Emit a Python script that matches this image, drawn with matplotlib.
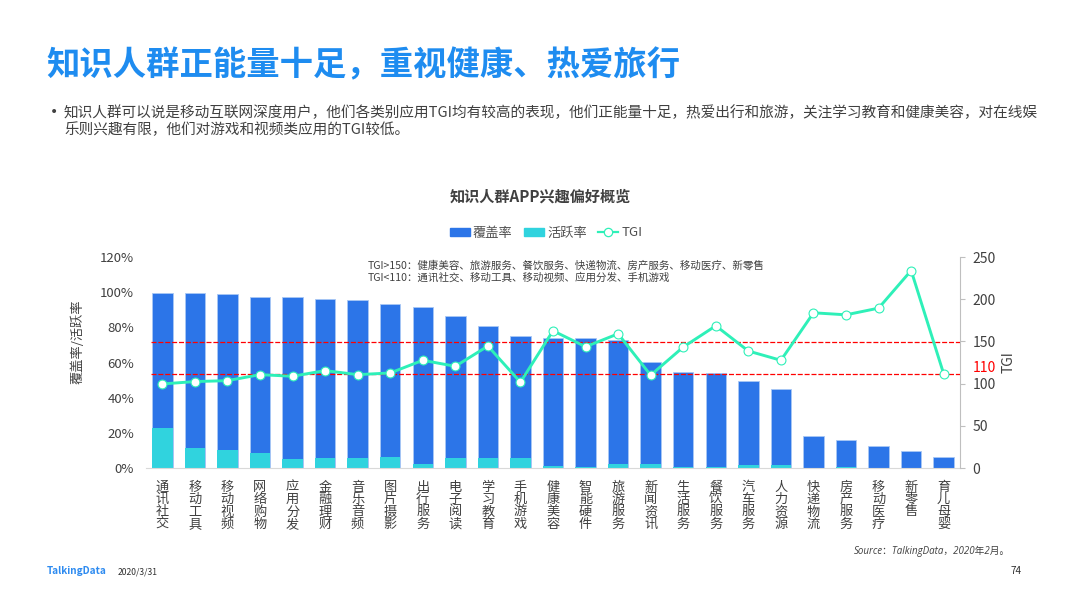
import numpy as np
import matplotlib
matplotlib.use("Agg")
import matplotlib.pyplot as plt
from matplotlib.lines import Line2D
from matplotlib.patches import Patch

plt.rcParams['font.family'] = ['Noto Sans CJK SC', 'DejaVu Sans']

categories = ["通讯社交", "移动工具", "移动视频", "网络购物", "应用分发", "金融理财", "音乐音频", "图片摄影",
              "出行服务", "电子阅读", "学习教育", "手机游戏", "健康美容", "智能硬件", "旅游服务", "新闻资讯",
              "生活服务", "餐饮服务", "汽车服务", "人力资源", "快递物流", "房产服务", "移动医疗", "新零售", "育儿母婴"]
coverage = [99.8, 99.4, 98.7, 97.5, 97.0, 96.2, 95.3, 93.0, 91.7, 86.4, 80.5, 75.0, 74.0,
            73.9, 72.8, 60.3, 54.4, 54.0, 49.5, 45.0, 18.1, 15.7, 12.7, 9.6, 6.2]
active = [22.5, 11.3, 10.0, 8.5, 4.9, 5.7, 5.9, 6.2, 2.3, 5.5, 5.9, 5.9, 1.2,
          0.5, 2.0, 2.5, 0.8, 0.8, 1.5, 1.7, 0.2, 0.8, 0.2, 0.2, 0.2]
tgi = [99.6, 102.4, 103.5, 110.6, 108.7, 115.4, 110.6, 112.6, 127.6, 120.5, 144.5, 101.6, 162.6,
       143.7, 159.0, 110.0, 143.3, 168.5, 138.6, 127.6, 183.9, 181.5, 189.4, 234.0, 111.4]
thresholds = [111, 149]
left_ticks = [0, 20, 40, 60, 80, 100, 120]
right_ticks = [0, 50, 100, 150, 200, 250]

BLUE = "#2C75E8"
CYAN = "#30D3DE"
GREEN = "#2EF0B8"
W, H = 1066, 599


def put(x, y, s, **kw):
    # pixel coords from top-left
    kw.setdefault("va", "center")
    return fig.text(x / W, 1 - y / H, s, **kw)


fig = plt.figure(figsize=(W / 100, H / 100), dpi=100)
ax = fig.add_axes([146 / W, 1 - 468 / H, (960 - 146) / W, (468 - 257) / H])
x = np.arange(len(categories))

ax.bar(x, coverage, width=0.63, color=BLUE, edgecolor="#A9C8F5", linewidth=0.6)
ax.bar(x, active, width=0.63, color=CYAN, linewidth=0)
ax.set_xlim(-0.5, len(categories) - 0.5)
ax.set_ylim(0, 120)
ax.set_yticks(left_ticks)
ax.set_yticklabels([f"{v}%" for v in left_ticks], fontsize=9.5, color="#404040")
ax.set_xticks(x)
ax.set_xticklabels(["\n".join(c) for c in categories], fontsize=9.5, color="#404040",
                   linespacing=0.95, va="top")
ax.tick_params(axis="both", length=0)
ax.tick_params(axis="x", pad=9)
ax.tick_params(axis="y", pad=8.5)
for s in ["top", "left", "right"]:
    ax.spines[s].set_visible(False)
ax.spines["bottom"].set_color("#D9D9D9")
ax.set_ylabel("覆盖率/活跃率", fontsize=9.5, color="#404040", labelpad=11, y=0.6)

ax2 = ax.twinx()
ax2.set_ylim(0, 250)
ax2.set_yticks(right_ticks)
ax2.set_yticklabels(right_ticks, fontsize=10, color="#404040")
ax2.tick_params(axis="y", length=3.6, width=0.8, color="#BFBFBF", pad=5.3)
for s in ["top", "left", "bottom"]:
    ax2.spines[s].set_visible(False)
ax2.spines["right"].set_color("#BFBFBF")
ax2.set_ylabel("TGI", fontsize=10, color="#404040", labelpad=4.5)
ax2.hlines(thresholds, -0.35, 24.5, colors="#FF0000", linestyles=(0, (4, 1.5)), linewidth=0.9, zorder=3)
ax2.plot(x, tgi, color=GREEN, linewidth=2.1, marker="o", markersize=6.4, markerfacecolor="white",
         markeredgecolor=GREEN, markeredgewidth=0.8, zorder=4)

put(46, 66, "知识人群正能量十足，重视健康、热爱旅行", fontsize=24, fontweight="bold", color="#1E8CF0")
put(50, 112, "•", fontsize=10, family="DejaVu Sans", color="#404040")
put(64, 113, "知识人群可以说是移动互联网深度用户，他们各类别应用TGI均有较高的表现，他们正能量十足，热爱出行和旅游，关注学习教育和健康美容，对在线娱",
    fontsize=10.55, color="#404040")
put(64, 130, "乐则兴趣有限，他们对游戏和视频类应用的TGI较低。", fontsize=10.55, color="#404040")
put(540.5, 197, "知识人群APP兴趣偏好概览", fontsize=10.9, fontweight="bold", color="#404040", ha="center")

handles = [Patch(color=BLUE, label="覆盖率"), Patch(color=CYAN, label="活跃率"),
           Line2D([0], [0], color=GREEN, linewidth=1.6, marker="o", markersize=6,
                  markerfacecolor="white", markeredgecolor=GREEN, markeredgewidth=0.9, label="TGI")]
fig.legend(handles=handles, ncol=3, frameon=False, loc="center", bbox_to_anchor=(546 / W, 1 - 233 / H),
           fontsize=9.5, labelcolor="#505050", handlelength=1.55, handleheight=0.55,
           handletextpad=0.2, columnspacing=0.85)

put(368, 265, "TGI>150：健康美容、旅游服务、餐饮服务、快递物流、房产服务、移动医疗、新零售", fontsize=7.55, color="#404040")
put(368, 278, "TGI<110：通讯社交、移动工具、移动视频、应用分发、手机游戏", fontsize=7.55, color="#404040")
put(973, 368, "110", fontsize=10, color="#FF0000")

put(854, 551, "Source：TalkingData，2020年2月。", fontsize=7, style="italic",
    family=["Open Sans", "Noto Sans CJK SC"], color="#404040")
put(47, 571, "TalkingData", fontsize=7.2, fontweight="bold", color="#2E8BF0")
put(118, 572, "2020/3/31", fontsize=6.2, color="#303030")
put(1011, 571, "74", fontsize=7.2, color="#303030")

fig.savefig("out.png", dpi=100)
